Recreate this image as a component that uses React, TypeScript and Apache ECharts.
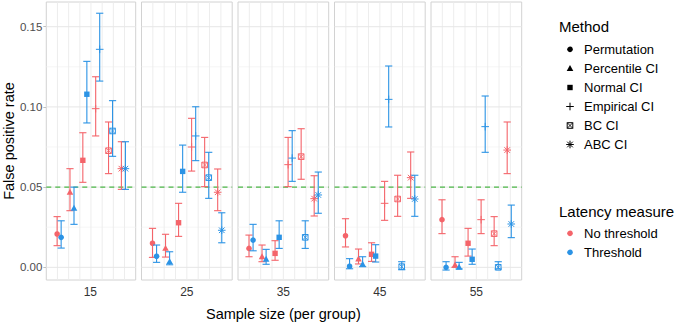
import React, { useEffect, useRef } from 'react';
import * as echarts from 'echarts';

const sampleSizes = ['15', '25', '35', '45', '55'];
const methods = ['Permutation', 'Percentile CI', 'Normal CI', 'Empirical CI', 'BC CI', 'ABC CI'];
const latencyMeasures = ['No threshold', 'Threshold'];
const latencyColors = ['#F4646A', '#2B93E5'];
const yTicks = [0, 0.05, 0.1, 0.15];
const yMinorTicks = [0.025, 0.075, 0.125];
const referenceRate = 0.05;

// rows: sample size, columns: method
const noThresholdRate = [
  [0.0208, 0.0468, 0.0667, 0.0989, 0.0727, 0.0615],
  [0.015, 0.0118, 0.0278, 0.075, 0.0638, 0.0468],
  [0.0118, 0.0066, 0.0087, 0.064, 0.069, 0.0428],
  [0.0197, 0.0052, 0.0081, 0.0399, 0.0426, 0.0559],
  [0.0297, 0.0014, 0.015, 0.0297, 0.021, 0.0731],
];
const noThresholdLow = [
  [0.0135, 0.0353, 0.053, 0.0819, 0.0584, 0.0486],
  [0.0062, 0.0064, 0.0193, 0.06, 0.0503, 0.0353],
  [0.0066, 0.0035, 0.0044, 0.0503, 0.0549, 0.032],
  [0.0127, 0.0021, 0.0037, 0.0293, 0.0318, 0.043],
  [0.021, 0.0, 0.007, 0.021, 0.0135, 0.0584],
];
const noThresholdHigh = [
  [0.0316, 0.0615, 0.0839, 0.1188, 0.0906, 0.0783],
  [0.0243, 0.0206, 0.0399, 0.0929, 0.081, 0.0613],
  [0.0201, 0.0139, 0.0166, 0.081, 0.0864, 0.0571],
  [0.0303, 0.0114, 0.0153, 0.0536, 0.0574, 0.0719],
  [0.0421, 0.0066, 0.0243, 0.0421, 0.0316, 0.0906],
];
const thresholdRate = [
  [0.0187, 0.0368, 0.1079, 0.1359, 0.085, 0.0615],
  [0.0069, 0.0035, 0.0598, 0.0819, 0.0559, 0.0231],
  [0.017, 0.005, 0.0187, 0.0681, 0.0187, 0.0451],
  [0.0007, 0.0019, 0.007, 0.1047, 0.0004, 0.0426],
  [0.0, 0.0, 0.005, 0.0877, 0.0, 0.027],
];
const thresholdLow = [
  [0.012, 0.0268, 0.09, 0.1161, 0.0692, 0.0486],
  [0.0031, 0.0016, 0.0468, 0.0665, 0.043, 0.0153],
  [0.0103, 0.0019, 0.0118, 0.0536, 0.0118, 0.0337],
  [-0.0009, 0.0004, 0.0033, 0.0875, -0.0015, 0.0318],
  [-0.0017, -0.001, 0.0019, 0.0717, -0.001, 0.0185],
];
const thresholdHigh = [
  [0.029, 0.05, 0.1284, 0.1584, 0.1039, 0.0783],
  [0.0139, 0.0097, 0.0762, 0.1001, 0.0717, 0.034],
  [0.0268, 0.0112, 0.029, 0.0852, 0.029, 0.0594],
  [0.0054, 0.0066, 0.0141, 0.1255, 0.0035, 0.0574],
  [0.0035, 0.0031, 0.0114, 0.1068, 0.0035, 0.0388],
];

const FONT = '"Liberation Sans", Arial, Helvetica, sans-serif';
const Y_MIN = -0.0079;
const Y_MAX = 0.1654;
const X_MAX = 8;
const PANEL_LEFT = 45;
const PANEL_STEP = 96.5;
const PANEL_W = 90.7;
const PANEL_TOP = 2;
const PANEL_H = 278;

function ln(x1: number, y1: number, x2: number, y2: number, color: string, lw = 1): any {
  return { type: 'line', shape: { x1, y1, x2, y2 }, style: { stroke: color, lineWidth: lw } };
}

function markerShapes(m: number, cx: number, cy: number, color: string): any[] {
  switch (m) {
    case 0:
      return [{ type: 'circle', shape: { cx, cy, r: 2.8 }, style: { fill: color } }];
    case 1:
      return [{ type: 'polygon', shape: { points: [[cx, cy - 3.5], [cx + 3.3, cy + 2.4], [cx - 3.3, cy + 2.4]] }, style: { fill: color } }];
    case 2:
      return [{ type: 'rect', shape: { x: cx - 2.7, y: cy - 2.7, width: 5.4, height: 5.4 }, style: { fill: color } }];
    case 3:
      return [ln(cx - 3.8, cy, cx + 3.8, cy, color, 1), ln(cx, cy - 3.8, cx, cy + 3.8, color, 1)];
    case 4:
      return [
        { type: 'rect', shape: { x: cx - 2.8, y: cy - 2.8, width: 5.6, height: 5.6 }, style: { fill: 'none', stroke: color, lineWidth: 1 } },
        ln(cx - 2.8, cy - 2.8, cx + 2.8, cy + 2.8, color, 0.9),
        ln(cx - 2.8, cy + 2.8, cx + 2.8, cy - 2.8, color, 0.9),
      ];
    default:
      return [
        ln(cx - 3.8, cy, cx + 3.8, cy, color, 1),
        ln(cx, cy - 3.8, cx, cy + 3.8, color, 1),
        ln(cx - 2.8, cy - 2.8, cx + 2.8, cy + 2.8, color, 1),
        ln(cx - 2.8, cy + 2.8, cx + 2.8, cy - 2.8, color, 1),
      ];
  }
}

function xPosition(method: number, latency: number): number {
  return 1.15 + 1.15 * method + (latency === 0 ? -0.18 : 0.18);
}

export default function App() {
  const ref = useRef<HTMLDivElement>(null);

  useEffect(() => {
    if (!ref.current) return;
    const chart = echarts.init(ref.current, undefined, { renderer: 'svg' });

    const grids: any[] = [];
    const xAxes: any[] = [];
    const yAxes: any[] = [];
    const series: any[] = [];
    const graphics: any[] = [];

    sampleSizes.forEach((ss, p) => {
      const left = PANEL_LEFT + p * PANEL_STEP;
      grids.push({
        left, top: PANEL_TOP, width: PANEL_W, height: PANEL_H,
        show: true, borderColor: '#d2d2d2', borderWidth: 1, backgroundColor: '#ffffff',
      });
      xAxes.push({
        type: 'value', gridIndex: p, min: 0, max: X_MAX,
        axisLine: { show: false }, axisTick: { show: false }, axisLabel: { show: false }, splitLine: { show: false },
      });
      yAxes.push({
        type: 'value', gridIndex: p, min: Y_MIN, max: Y_MAX,
        axisLine: { show: false },
        axisTick: p === 0 ? { show: true, customValues: yTicks, length: 3, lineStyle: { color: '#c0c0c0' } } : { show: false },
        axisLabel: p === 0
          ? { show: true, customValues: yTicks, formatter: (v: number) => v.toFixed(2), fontFamily: FONT, fontSize: 11.5, color: '#4d4d4d', margin: 4 }
          : { show: false },
        splitLine: { show: false },
        name: p === 0 ? 'False positive rate' : '',
        nameLocation: 'middle',
        nameGap: 28,
        nameRotate: 90,
        nameTextStyle: { fontFamily: FONT, fontSize: 14.5, color: '#000000' },
      });

      // background grid and reference line
      series.push({
        type: 'custom', xAxisIndex: p, yAxisIndex: p, z: 1, silent: true,
        data: [[X_MAX / 2, referenceRate]],
        renderItem: (params: any, api: any) => {
          const cs = params.coordSys;
          const children: any[] = [];
          yMinorTicks.forEach((v) => {
            const y = api.coord([0, v])[1];
            children.push(ln(cs.x, y, cs.x + cs.width, y, '#f2f2f2', 0.7));
          });
          for (let k = 1; k < X_MAX; k++) {
            const x = api.coord([k, 0])[0];
            children.push(ln(x, cs.y, x, cs.y + cs.height, '#ebebeb', 0.9));
          }
          yTicks.forEach((v) => {
            const y = api.coord([0, v])[1];
            children.push(ln(cs.x, y, cs.x + cs.width, y, '#e6e6e6', 1));
          });
          const yr = api.coord([0, referenceRate])[1];
          children.push({
            type: 'line', shape: { x1: cs.x, y1: yr, x2: cs.x + cs.width, y2: yr },
            style: { stroke: '#4DB848', lineWidth: 1.1, lineDash: [5, 4] },
          });
          return { type: 'group', children };
        },
      });

      const rates = [noThresholdRate, thresholdRate];
      const lows = [noThresholdLow, thresholdLow];
      const highs = [noThresholdHigh, thresholdHigh];
      latencyMeasures.forEach((lm, l) => {
        const color = latencyColors[l];
        const data = methods.map((_, m) => [xPosition(m, l), rates[l][p][m], lows[l][p][m], highs[l][p][m], m]);
        series.push({
          type: 'custom', name: lm, xAxisIndex: p, yAxisIndex: p, z: 3 + l,
          data,
          encode: { x: 0, y: [1, 2, 3] },
          renderItem: (params: any, api: any) => {
            const x = api.value(0);
            const pt = api.coord([x, api.value(1)]);
            const lo = api.coord([x, api.value(2)]);
            const hi = api.coord([x, api.value(3)]);
            const cw = 3.6;
            return {
              type: 'group',
              children: [
                ln(pt[0], lo[1], pt[0], hi[1], color, 1.1),
                ln(pt[0] - cw, lo[1], pt[0] + cw, lo[1], color, 1.1),
                ln(pt[0] - cw, hi[1], pt[0] + cw, hi[1], color, 1.1),
                ...markerShapes(api.value(4), pt[0], pt[1], color),
              ],
            };
          },
        });
      });

      graphics.push({
        type: 'text', x: left + PANEL_W / 2, y: 292,
        style: { text: ss, fontFamily: FONT, fontSize: 12, fill: '#333333', textAlign: 'center', textVerticalAlign: 'middle' },
      });
    });

    graphics.push({
      type: 'text', x: PANEL_LEFT + (4 * PANEL_STEP + PANEL_W) / 2, y: 314,
      style: { text: 'Sample size (per group)', fontFamily: FONT, fontSize: 14.5, fill: '#000000', textAlign: 'center', textVerticalAlign: 'middle' },
    });

    // Legend: Method
    graphics.push({
      type: 'text', x: 559, y: 26,
      style: { text: 'Method', fontFamily: FONT, fontSize: 15, fill: '#000000', textAlign: 'left', textVerticalAlign: 'middle' },
    });
    const methodYs = [49.3, 68.5, 87.5, 106.5, 125.5, 144.5];
    methods.forEach((m, i) => {
      graphics.push({ type: 'group', children: markerShapes(i, 570, methodYs[i], '#000000') });
      graphics.push({
        type: 'text', x: 584, y: methodYs[i],
        style: { text: m, fontFamily: FONT, fontSize: 13, fill: '#000000', textAlign: 'left', textVerticalAlign: 'middle' },
      });
    });
    // Legend: Latency measure
    graphics.push({
      type: 'text', x: 559, y: 211.5,
      style: { text: 'Latency measure', fontFamily: FONT, fontSize: 15, fill: '#000000', textAlign: 'left', textVerticalAlign: 'middle' },
    });
    const latYs = [233.3, 252.3];
    latencyMeasures.forEach((lm, i) => {
      graphics.push({ type: 'circle', shape: { cx: 570, cy: latYs[i], r: 2.8 }, style: { fill: latencyColors[i] } });
      graphics.push({
        type: 'text', x: 584, y: latYs[i],
        style: { text: lm, fontFamily: FONT, fontSize: 13, fill: '#000000', textAlign: 'left', textVerticalAlign: 'middle' },
      });
    });

    chart.setOption({
      animation: false,
      backgroundColor: '#ffffff',
      textStyle: { fontFamily: FONT },
      grid: grids,
      xAxis: xAxes,
      yAxis: yAxes,
      series,
      graphic: { elements: graphics },
    });

    return () => chart.dispose();
  }, []);

  return <div ref={ref} style={{ position: 'fixed', left: 0, top: 0, width: 677, height: 324 }} />;
}
